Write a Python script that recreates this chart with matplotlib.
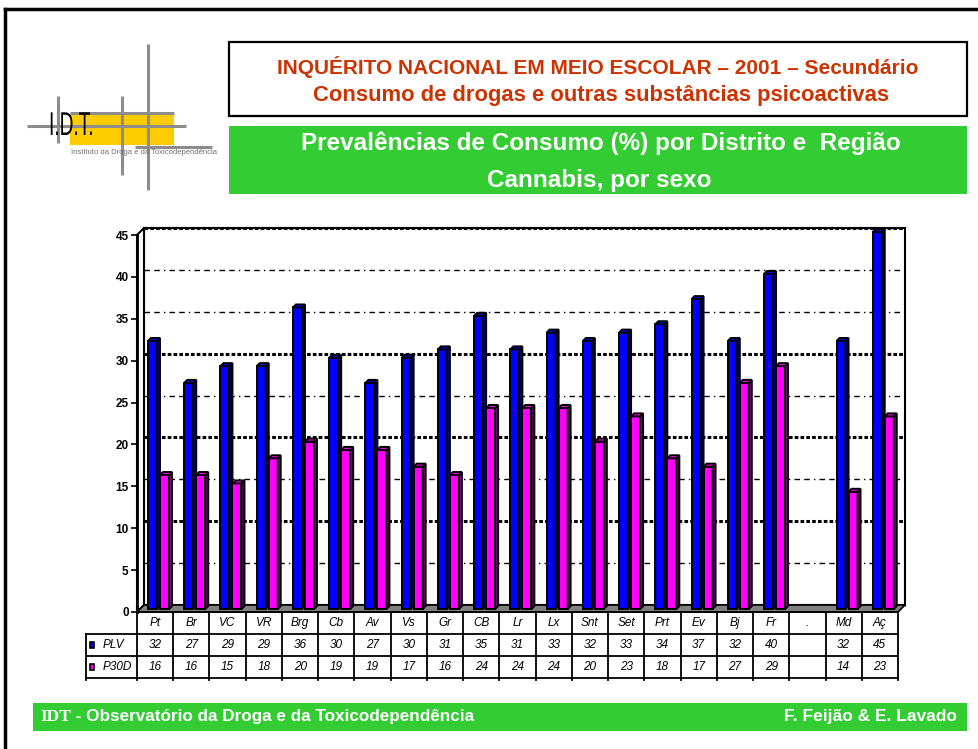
import numpy as np
import matplotlib
matplotlib.use('Agg')
import matplotlib.pyplot as plt
from matplotlib.patches import Rectangle, Polygon, PathPatch
from matplotlib.textpath import TextPath
from matplotlib.font_manager import FontProperties
from matplotlib.transforms import Affine2D

# data
categories = ['Pt', 'Br', 'VC', 'VR', 'Brg', 'Cb', 'Av', 'Vs', 'Gr', 'CB', 'Lr',
              'Lx', 'Snt', 'Set', 'Prt', 'Ev', 'Bj', 'Fr', '.', 'Md', 'Aç']
plv = [32, 27, 29, 29, 36, 30, 27, 30, 31, 35, 31, 33, 32, 33, 34, 37, 32, 40, None, 32, 45]
p30d = [16, 16, 15, 18, 20, 19, 19, 17, 16, 24, 24, 24, 20, 23, 18, 17, 27, 29, None, 14, 23]
series_names = ['PLV', 'P30D']
ytick_values = [0, 5, 10, 15, 20, 25, 30, 35, 40, 45]

title1 = 'INQUÉRITO NACIONAL EM MEIO ESCOLAR – 2001 – Secundário'
title2 = 'Consumo de drogas e outras substâncias psicoactivas'
sub1 = 'Prevalências de Consumo (%) por Distrito e  Região'
sub2 = 'Cannabis, por sexo'

plt.rcParams['font.family'] = ['Liberation Sans', 'DejaVu Sans']

W, H = 979, 749
fig = plt.figure(figsize=(W / 100, H / 100), dpi=100)

# overlay in pixel units for the slide decoration
deco = fig.add_axes([0, 0, 1, 1])
deco.set_xlim(0, W)
deco.set_ylim(H, 0)
deco.axis('off')

GREEN = '#33CC33'
GREY = '#8C8C8C'

# slide frame
deco.plot([5, W], [9, 9], color='black', lw=2.5, solid_capstyle='projecting')
deco.plot([5, 5], [9, H], color='black', lw=2.5, solid_capstyle='projecting')

# title box
deco.add_patch(Rectangle((229, 42), 738, 74, fc='white', ec='black', lw=1.6))
deco.text(598, 67, title1, ha='center', va='center', color='#CC3300',
          fontsize=15, fontweight='bold')
deco.text(601, 95, title2, ha='center', va='center', color='#CC3300',
          fontsize=15.8, fontweight='bold')

# green subtitle box
deco.add_patch(Rectangle((229, 126), 738, 68, fc=GREEN, ec='none'))
deco.text(601, 143, sub1, ha='center', va='center', color='white',
          fontsize=17.5, fontweight='bold')
deco.text(599, 180, sub2, ha='center', va='center', color='white',
          fontsize=17.5, fontweight='bold')

# logo
deco.add_patch(Rectangle((70, 115), 104, 30, fc='#FFCC00', ec='none'))
for xs, ys in [([148, 148], [44, 190]), ([122, 122], [96, 175]), ([58, 58], [96, 143]),
               ([70, 174], [113, 113]), ([27, 186], [126, 126]), ([135, 212], [147, 147])]:
    deco.plot(xs, ys, color=GREY, lw=2.2, solid_capstyle='butt')
tp = TextPath((0, 0), 'I.D.T.', size=33, prop=FontProperties(family='Liberation Sans'))
deco.add_patch(PathPatch(tp, transform=Affine2D().scale(0.58, -1).translate(49, 135) + deco.transData,
                         fc='black', ec='none', zorder=5))
deco.text(71, 153, 'Instituto da Droga e da Toxicodependência', fontsize=5.5,
          color='#707070', va='center', ha='left', zorder=5)

# footer
deco.add_patch(Rectangle((33, 703), 934, 28, fc=GREEN, ec='none'))
t1 = deco.text(40, 717, 'IDT', fontsize=12.5, fontweight='bold', color='white',
               family='Liberation Serif', va='center')
deco.annotate(' - Observatório da Droga e da Toxicodependência', xy=(1, 0.5), xycoords=t1,
              va='center', ha='left', fontsize=12.3, fontweight='bold', color='white')
deco.text(957, 717, 'F. Feijão & E. Lavado', ha='right', va='center', fontsize=12.5,
          fontweight='bold', color='white')

# chart area: front plane in data units
x0, x1, y0, y1 = 137, 898, 612, 235
n = len(categories)
ymax = 45
ax = fig.add_axes([x0 / W, 1 - y0 / H, (x1 - x0) / W, (y0 - y1) / H])
ax.set_xlim(0, n)
ax.set_ylim(0, ymax)
ax.patch.set_visible(False)
for s in ['top', 'right', 'bottom']:
    ax.spines[s].set_visible(False)
ax.spines['left'].set_linewidth(2)
ax.spines['left'].set_zorder(6)
ax.set_xticks([])
ax.set_yticks(ytick_values)
ax.tick_params(axis='y', length=4, width=1.2, pad=2, labelsize=8.5)
for lab in ax.get_yticklabels():
    lab.set_fontweight('bold')

ppc = (x1 - x0) / n          # pixels per category
ppu = (y0 - y1) / ymax       # pixels per unit
dx, dy = 7 / ppc, 7 / ppu    # depth of the box

# back wall, side wall, floor
ax.add_patch(Rectangle((dx, dy), n, ymax, fc='white', ec='black', lw=1.5, clip_on=False, zorder=0.5))
ax.add_patch(Polygon([(0, 0), (dx, dy), (dx, ymax + dy), (0, ymax)], fc='white', ec='black',
                     lw=1.5, clip_on=False, zorder=0.6))
ax.add_patch(Polygon([(0, 0), (n, 0), (n + dx, dy), (dx, dy)], fc='#808080', ec='black',
                     lw=1.2, clip_on=False, zorder=1))

for v in ytick_values:
    if v in (0, 10, 20, 30, 45):
        ax.plot([dx, n + dx], [v + dy, v + dy], color='black', lw=2.2,
                linestyle=(0, (1.2, 0.7)), clip_on=False, zorder=0.8)
    else:
        ax.plot([dx, n + dx], [v + dy, v + dy], color='black', lw=1.0,
                linestyle=(0, (4, 3, 4, 3, 1, 3)), clip_on=False, zorder=0.8)

# bars with a small 3d side and top
bw = 9 / ppc
sx, sy = 3 / ppc, 3 / ppu
base = 0.35


def bars3d(xpos, vals, face, side):
    xs = [x for x, v in zip(xpos, vals) if v is not None]
    vs = [v for v in vals if v is not None]
    ax.bar(xs, vs, width=bw, bottom=base, align='edge', color=face, edgecolor='black',
           linewidth=1.4, zorder=3, clip_on=False)
    for x, v in zip(xs, vs):
        top = v + base
        ax.add_patch(Polygon([(x + bw, base), (x + bw + sx, base + sy), (x + bw + sx, top + sy),
                              (x + bw, top)], fc=side, ec='black', lw=1.4, zorder=3, clip_on=False))
        ax.add_patch(Polygon([(x, top), (x + sx, top + sy), (x + bw + sx, top + sy), (x + bw, top)],
                             fc=face, ec='black', lw=1.4, zorder=3, clip_on=False))


idx = np.arange(n)
bars3d(idx + 11 / ppc, plv, '#0000FF', '#000080')
bars3d(idx + 23 / ppc, p30d, '#FF00FF', '#800080')

# data table under the chart
tab = fig.add_axes([86 / W, 1 - 678 / H, (898 - 86) / W, 66 / H])
lab_w = (137 - 86) / ppc
tab.set_xlim(-lab_w, n)
tab.set_ylim(0, 3)
tab.axis('off')
lk = dict(color='black', lw=1.3, clip_on=False)
tab.plot([0, n], [3, 3], **lk)
for yy in (2, 1, 0):
    tab.plot([-lab_w, n], [yy, yy], **lk)
for k in range(n + 1):
    tab.plot([k, k], [-0.1, 3], **lk)
tab.plot([-lab_w, -lab_w], [-0.1, 2], **lk)
for i, c in enumerate(categories):
    tab.text(i + 0.5, 2.5, c, ha='center', va='center', style='italic', fontsize=8.5)
for row, vals in ((1.5, plv), (0.5, p30d)):
    for i, v in enumerate(vals):
        if v is not None:
            tab.text(i + 0.5, row, str(v), ha='center', va='center', style='italic', fontsize=8.5)
for row, name, col in ((1.5, series_names[0], '#0000FF'), (0.5, series_names[1], '#FF00FF')):
    tab.add_patch(Rectangle((-lab_w + 4 / ppc, row - 0.15), 4 / ppc, 0.3, fc=col, ec='black',
                            lw=1.2, clip_on=False))
    tab.text(-lab_w + 17 / ppc, row, name, ha='left', va='center', style='italic', fontsize=8.5)

fig.savefig('out.png', dpi=100)
